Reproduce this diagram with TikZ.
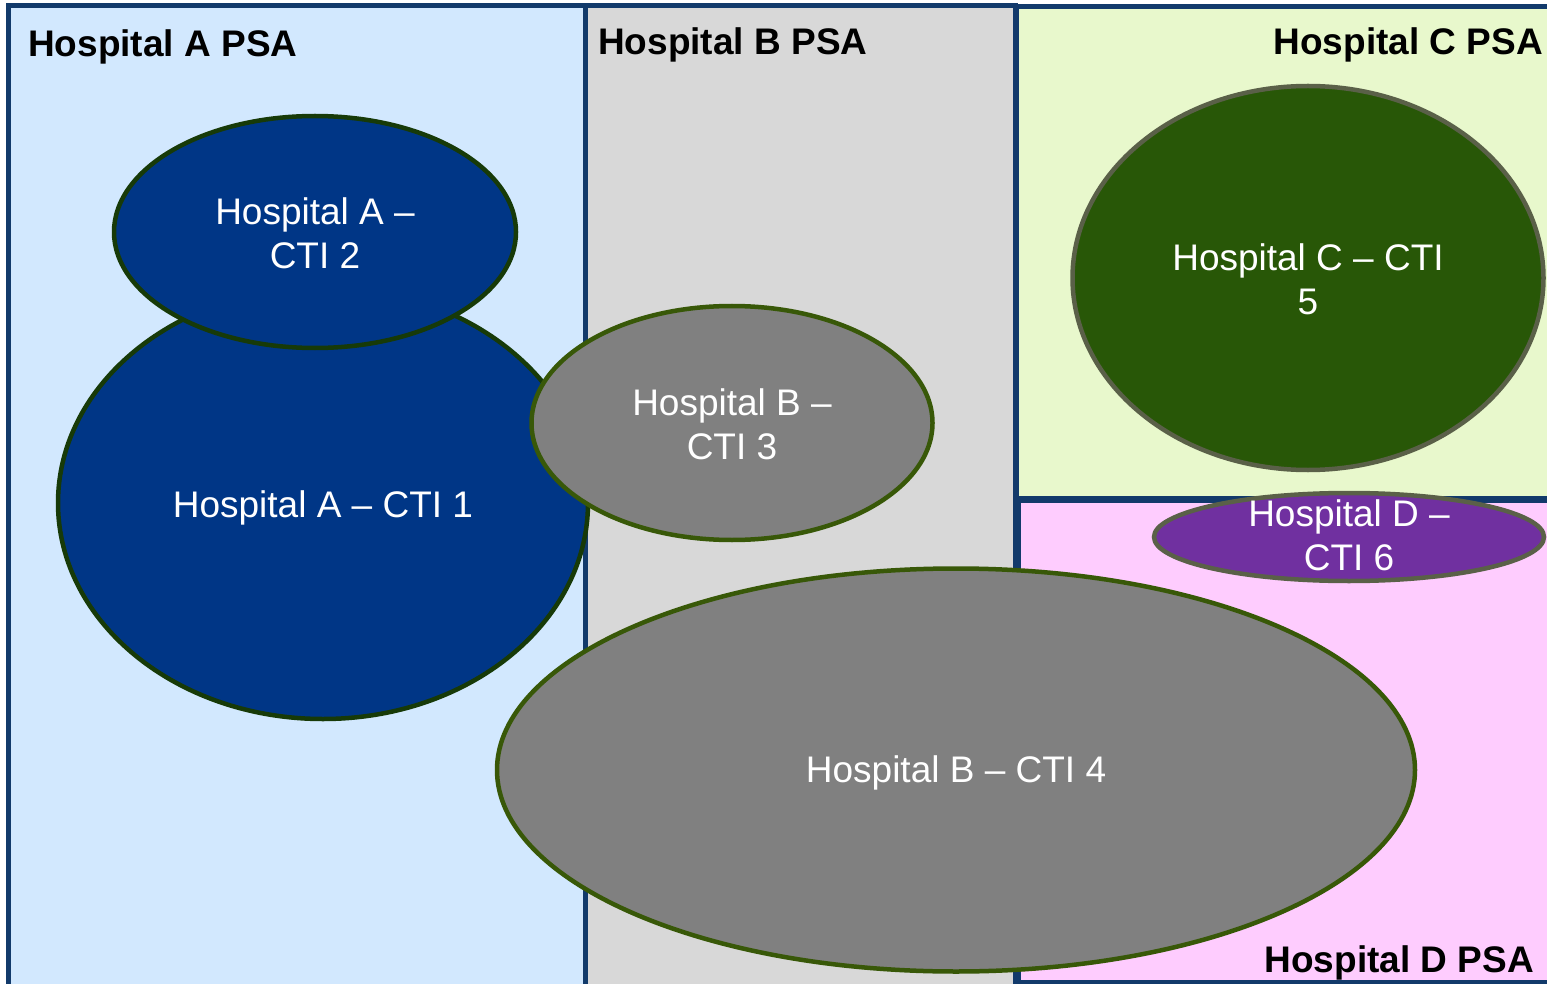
\documentclass[tikz,border=0pt]{standalone}
\usepackage{fontspec}
\setmainfont{Liberation Sans}
\usetikzlibrary{shapes.geometric}
\definecolor{frameblue}{HTML}{123A6B}
\definecolor{fillA}{HTML}{D2E8FE}
\definecolor{fillB}{HTML}{D8D8D8}
\definecolor{fillC}{HTML}{E8F8CC}
\definecolor{fillD}{HTML}{FECCFE}
\definecolor{navy}{HTML}{003686}
\definecolor{darkgreenline}{HTML}{173A08}
\definecolor{oliveline}{HTML}{385808}
\definecolor{grayline}{HTML}{5A6048}
\definecolor{forest}{HTML}{285707}
\definecolor{purp}{HTML}{7030A0}
\definecolor{midgray}{HTML}{808080}
\tikzset{
  psa/.style={draw=frameblue, line width=5pt},
  psatitle/.style={inner sep=0pt, font=\fontsize{37}{44}\selectfont\bfseries, text=black},
  cti/.style={ellipse, inner sep=0pt, line width=4.5pt},
  ctilabel/.style={inner sep=0pt, text=white, align=center, font=\fontsize{37}{44}\selectfont},
}
\begin{document}
\begin{tikzpicture}[x=1pt,y=-1pt]
\clip (0,0) rectangle (1547,984);
\fill[white] (0,0) rectangle (1547,984);
% PSA regions
\path[psa, fill=fillA] (8,6) rectangle (585,995);
\path[psa, fill=fillB] (585,6) rectangle (1015,995);
\path[psa, fill=fillC] (1016,7) rectangle (1565,498);
\path[psa, fill=fillD] (1018,500) rectangle (1565,982);
% titles
\node[psatitle, anchor=base west] (tA) at (28,57) {Hospital A PSA};
\node[psatitle, anchor=base west] (tB) at (598,55) {Hospital B PSA};
\node[psatitle, anchor=base east] (tC) at (1543,55) {Hospital C PSA};
\node[psatitle, anchor=base east] (tD) at (1534,972) {Hospital D PSA};
% CTIs
\node[cti, fill=navy, draw=darkgreenline, minimum width=530pt, minimum height=432pt] (c1) at (323,503) {};
\node[ctilabel] (l1) at (323,508) {Hospital A -- CTI 1};
\node[cti, fill=navy, draw=darkgreenline, minimum width=402pt, minimum height=232pt] (c2) at (315,232) {};
\node[ctilabel] (l2) at (315,233) {Hospital A --\\CTI 2};
\node[cti, fill=midgray, draw=oliveline, minimum width=401pt, minimum height=234pt] (c3) at (732,423) {};
\node[ctilabel] (l3) at (732,424) {Hospital B --\\CTI 3};
\node[cti, fill=midgray, draw=oliveline, minimum width=918pt, minimum height=403pt] (c4) at (956,770) {};
\node[ctilabel] (l4) at (956,773) {Hospital B -- CTI 4};
\node[cti, fill=forest, draw=grayline, minimum width=471pt, minimum height=384pt] (c5) at (1308,278) {};
\node[ctilabel] (l5) at (1308,279) {Hospital C -- CTI\\5};
\node[cti, fill=purp, draw=grayline, minimum width=390pt, minimum height=88pt] (c6) at (1349,537) {};
\node[ctilabel] (l6) at (1349,535) {Hospital D --\\CTI 6};
\end{tikzpicture}
\end{document}
